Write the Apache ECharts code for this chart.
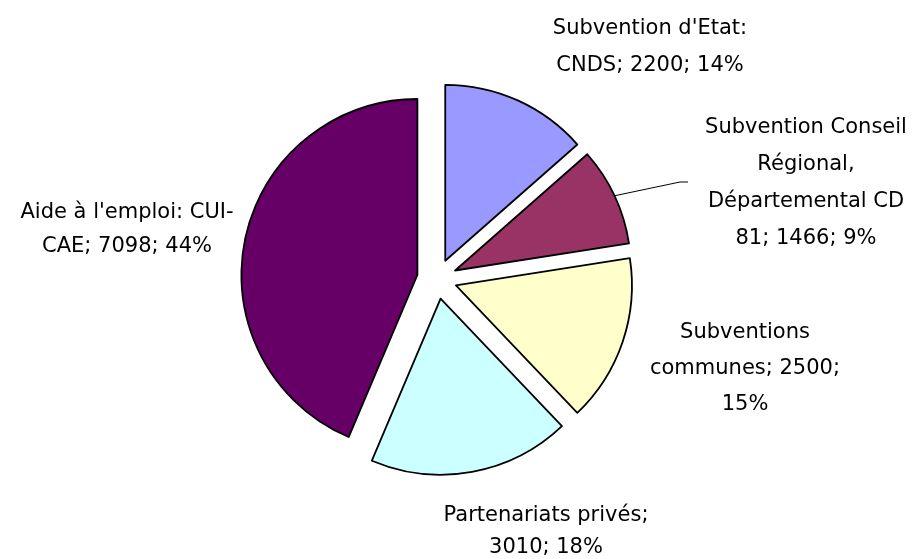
<!DOCTYPE html>
<html>
<head>
<meta charset="utf-8">
<script src="https://cdn.jsdelivr.net/npm/echarts@6/dist/echarts.min.js"></script>
<style>
html,body{margin:0;padding:0;background:#fff;}
#chart{width:921px;height:559px;}
</style>
</head>
<body>
<div id="chart"></div>
<script>
// Data
const categories = [
  "Subvention d'Etat: CNDS",
  "Subvention Conseil Régional, Départemental CD 81",
  "Subventions communes",
  "Partenariats privés",
  "Aide à l'emploi: CUI-CAE"
];
const values = [2200, 1466, 2500, 3010, 7098];
// Label text as wrapped in the original ({v} = value, {p} = percent)
const labelTemplates = [
  "Subvention d'Etat:\nCNDS; {v}; {p}%",
  "Subvention Conseil\nRégional,\nDépartemental CD\n81; {v}; {p}%",
  "Subventions\ncommunes; {v};\n{p}%",
  "Partenariats privés;\n{v}; {p}%",
  "Aide à l'emploi: CUI-\nCAE; {v}; {p}%"
];
const colors = ['#9999FF', '#993366', '#FFFFCC', '#CCFFFF', '#660066'];
// Label block centres (style)
const labelPos = [[650, 47], [806, 183], [745, 369], [546, 532], [127, 230]];
const labelLH = [37, 37, 36, 32, 34];
const showLine = [false, true, false, false, false];

const total = values.reduce((a, b) => a + b, 0);
const chart = echarts.init(document.getElementById('chart'), null, {renderer: 'canvas'});
const data = categories.map((c, i) => ({
  name: c,
  value: values[i],
  selected: true,
  itemStyle: {color: colors[i]},
  label: {lineHeight: labelLH[i]},
  labelLine: {show: showLine[i]}
}));
chart.setOption({
  backgroundColor: '#ffffff',
  animation: false,
  series: [{
    type: 'pie',
    center: [437, 279],
    radius: 176,
    startAngle: 90,
    clockwise: true,
    selectedMode: 'multiple',
    selectedOffset: 20,
    avoidLabelOverlap: false,
    itemStyle: {borderColor: '#000', borderWidth: 1.8},
    emphasis: {disabled: true},
    select: {itemStyle: {borderColor: '#000', borderWidth: 1.8}},
    label: {
      show: true,
      position: 'outside',
      color: '#000',
      fontSize: 21,
      fontFamily: '"Comic Sans MS", "DejaVu Sans", sans-serif',
      align: 'center',
      formatter: function (p) {
        return labelTemplates[p.dataIndex]
          .replace('{v}', p.value)
          .replace('{p}', Math.round(p.value / total * 100));
      }
    },
    labelLine: {show: false, lineStyle: {color: '#000', width: 1}},
    labelLayout: function (params) {
      const pos = labelPos[params.dataIndex];
      return {x: pos[0], y: pos[1], align: 'center', verticalAlign: 'middle'};
    },
    data: data
  }]
});
// Keep the label positions (and the leader line) in the exploded (selected) state
const sd = chart.getModel().getSeriesByIndex(0).getData();
for (let i = 0; i < values.length; i++) {
  const el = sd.getItemGraphicEl(i);
  if (!el) continue;
  const pos = labelPos[i];
  const t = el.getTextContent();
  if (t) {
    if (t.states && t.states.select) {
      t.states.select.x = pos[0];
      t.states.select.y = pos[1];
    }
    t.x = pos[0];
    t.y = pos[1];
    t.markRedraw();
  }
  const gl = el.getTextGuideLine && el.getTextGuideLine();
  if (gl && showLine[i] && gl.shape && gl.shape.points && gl.shape.points.length) {
    const a = gl.shape.points[0];
    const ox = gl.x || 0, oy = gl.y || 0;
    const pts = [[a[0], a[1]],
      [pos[0] - 126 - ox, pos[1] - 1 - oy],
      [pos[0] - 118 - ox, pos[1] - 1 - oy]];
    gl.setShape({points: pts});
    if (gl.states && gl.states.select && gl.states.select.shape) {
      gl.states.select.shape.points = pts;
    }
    gl.markRedraw();
  }
}
</script>
</body>
</html>
